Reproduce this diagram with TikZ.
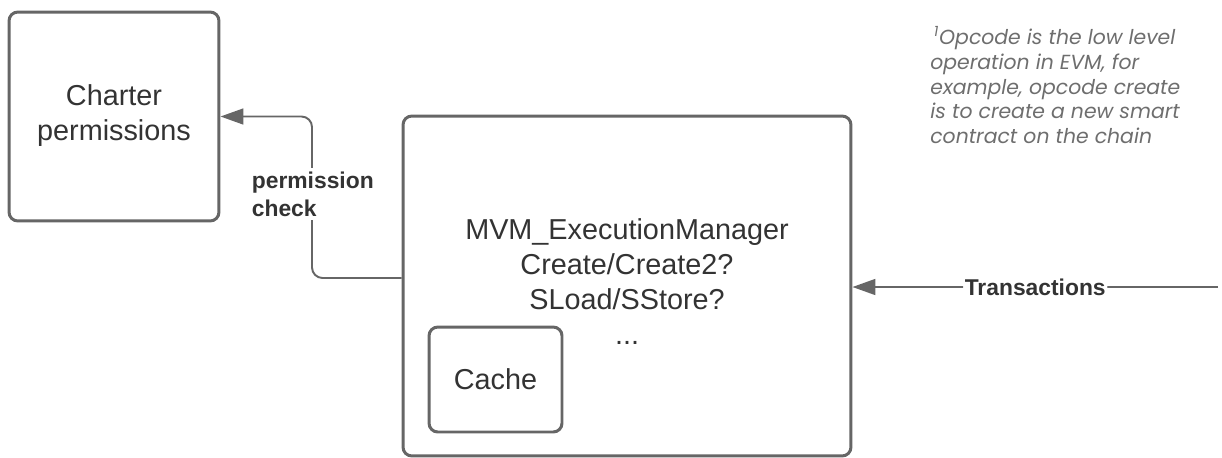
\documentclass[tikz,border=0pt]{standalone}
\usepackage{fontspec}
\setmainfont{Liberation Sans}
\newfontfamily\notefont{Poppins}
\usetikzlibrary{arrows.meta}

\definecolor{lineGray}{RGB}{102,102,102}
\definecolor{textGray}{RGB}{51,51,51}
\definecolor{noteGray}{RGB}{110,110,110}

\begin{document}
\begin{tikzpicture}[x=0.02cm, y=-0.02cm,
	box/.style={draw=lineGray, line width=1.7pt, rounded corners=5pt, align=center, text=textGray, font=\fontsize{16.4}{19.8}\selectfont},
	conn/.style={draw=lineGray, line width=1.1pt, rounded corners=6pt, -{Triangle[length=13pt, width=9pt]}},
	tag/.style={fill=white, text=textGray, align=left, inner sep=2pt, font=\fontsize{13}{15.9}\selectfont\bfseries}]

	\useasboundingbox (0,0) rectangle (1222,457);

% Define coordinates.

	\coordinate (checkLevel) at (0,278);
	\coordinate (checkBend) at (312,200);
	\coordinate (txSource) at (1218,287);

% Draw boxes.

	\node[box, minimum width=4.2cm, minimum height=4.18cm] (charter) at (114,116.5) {Charter\\permissions\\[-15pt]};
	
	\node[box, minimum width=8.96cm, minimum height=6.8cm] (manager) at (627,286) {};
	\node[align=center, text=textGray, font=\fontsize{16.4}{19.8}\selectfont] (managerText) at (627,264) {MVM\_ExecutionManager\\Create/Create2?\\SLoad/SStore?};
	\node[text=textGray, font=\fontsize{16.4}{19.8}\selectfont, inner sep=0pt] (dots) at (627,343) {...};
	
	\node[box, minimum width=2.66cm, minimum height=2.1cm] (cache) at (495.5,379.5) {Cache};

% Draw connectors.

	\draw[conn] (manager.west |- checkLevel) -| (checkBend) |- (charter.east);
	\draw[conn] (txSource) -- (manager.east |- txSource) node[tag, midway, inner sep=1pt] (txLabel) {Transactions};
	
	\node[tag, anchor=west] (checkLabel) at (248,194) {permission\\check};

% Draw note.

	\node[anchor=north west, align=left, text=noteGray, inner sep=0pt, font=\notefont\itshape\fontsize{11.6}{14.2}\selectfont] (note) at (930,26) {\,\textsuperscript{1}Opcode is the low level\\operation in EVM, for\\example, opcode create\\is to create a new smart\\contract on the chain};

\end{tikzpicture}
\end{document}
